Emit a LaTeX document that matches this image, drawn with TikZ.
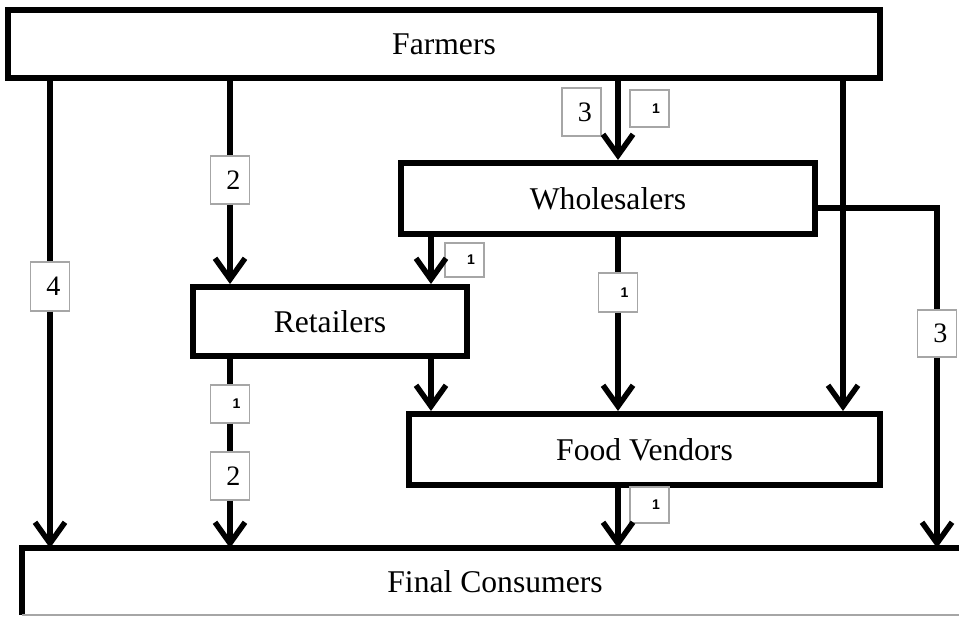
\documentclass[tikz,border=0pt]{standalone}
\usepackage{fontspec}
\setmainfont{Liberation Serif}
\newfontfamily\onefont{Liberation Sans}
\usetikzlibrary{arrows.meta, positioning}

\tikzset{
  actor/.style={draw, line width=0.12cm, fill=white, inner sep=0pt,
    font=\fontsize{18}{20}\selectfont},
  flow/.style={line width=0.11cm, -{Straight Barb[length=0.42cm, width=0.6cm]}},
  share/.style={draw=gray!70, line width=0.6pt, fill=white, minimum width=0.78cm,
    inner xsep=0.18cm, inner ysep=0pt, text width=0.42cm, align=right,
    font=\fontsize{16}{18}\selectfont},
  one/.style={share, font=\onefont\bfseries\fontsize{8}{9}\selectfont}
}

\begin{document}
\begin{tikzpicture}
        \useasboundingbox (0,0) rectangle (19.18,-12.34);

        % trade partners
        \node[actor, minimum width=17.44cm, minimum height=1.36cm] (farmers) at (8.88,-0.88) {Farmers};
        \node[actor, minimum width=8.28cm, minimum height=1.42cm] (wholesalers) at (12.16,-3.97) {Wholesalers};
        \node[actor, minimum width=5.48cm, minimum height=1.38cm] (retailers) at (6.6,-6.43) {Retailers};
        \node[actor, minimum width=9.42cm, minimum height=1.42cm] (vendors) at (12.89,-8.99) {Food Vendors};
        \node[actor, draw=none, outer sep=0pt, minimum width=18.92cm, minimum height=1.34cm] (consumers) at (9.9,-11.63) {Final Consumers};
        \draw[line width=0.12cm] (consumers.south west) -- (consumers.north west) -- (consumers.north east);
        \draw[gray!70, line width=0.6pt] (consumers.south west) -- (consumers.south east);

        % free lanes
        \coordinate (midlane) at (8.62,0);
        \coordinate (farlane) at (16.86,0);

        % numbers on the flows
        \node[share, minimum height=0.98cm] (n4) at (1.0,-5.73) {4};
        \node[share, minimum height=0.96cm] (n2top) at (4.6,-3.6) {2};
        \node[share, minimum height=0.96cm] (n3top) at (11.63,-2.24) {3};
        \node[one, minimum height=0.74cm] (n1top) at (12.99,-2.17) {1};
        \node[one, minimum height=0.68cm] (n1ret) at (9.29,-5.2) {1};
        \node[one, minimum height=0.78cm] (n1mid) at (12.36,-5.85) {1};
        \node[share, minimum height=0.94cm] (n3right) at (18.74,-6.67) {3};
        \node[one, minimum height=0.76cm] (n1low) at (4.6,-8.08) {1};
        \node[share, minimum height=0.96cm] (n2low) at (4.6,-9.52) {2};
        \node[one, minimum height=0.72cm] (n1end) at (12.99,-10.1) {1};

        % flows from the farmers
        \draw[flow] (farmers.south -| n4) -- (n4) -- (consumers.north -| n4);
        \draw[flow] (farmers.south -| n2top) -- (n2top) -- (retailers.north -| n2top);
        \draw[flow] (farmers.south -| n1mid) -- (wholesalers.north -| n1mid);
        \draw[flow] (farmers.south -| farlane) -- (vendors.north -| farlane);

        % flows from the wholesalers
        \draw[flow] (wholesalers.south -| midlane) -- (retailers.north -| midlane);
        \draw[flow] (wholesalers.south -| n1mid) -- (n1mid) -- (vendors.north -| n1mid);
        \draw[flow] ([yshift=-0.19cm]wholesalers.east) -| (n3right) -- (consumers.north -| n3right);

        % flows from the retailers and vendors
        \draw[flow] (retailers.south -| midlane) -- (vendors.north -| midlane);
        \draw[flow] (retailers.south -| n1low) -- (n1low) -- (n2low) -- (consumers.north -| n2low);
        \draw[flow] (vendors.south -| n1mid) -- (consumers.north -| n1mid);
\end{tikzpicture}
\end{document}
